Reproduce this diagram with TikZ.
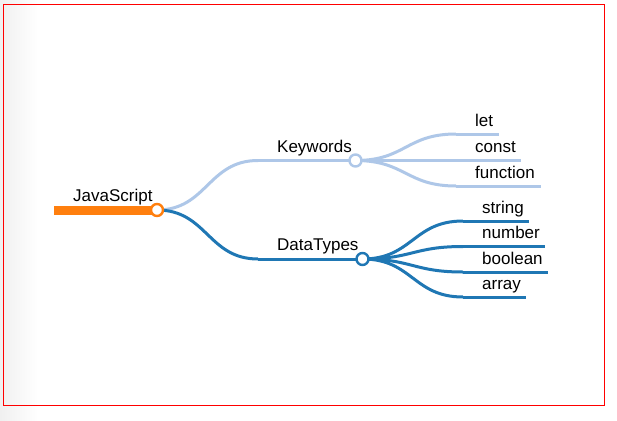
\documentclass[tikz,border=0pt]{standalone}
\usepackage{fontspec}
\setmainfont{Liberation Sans}
\begin{document}
\begin{tikzpicture}[x=1pt,y=-1pt,
  lbl/.style={anchor=base west,inner sep=0pt,font=\fontsize{17}{19}\selectfont,text=black},
  dot/.style={circle,draw,fill=white,minimum size=12pt,inner sep=0pt,line width=2.4pt},
  lnk/.style={line width=3pt}]
\definecolor{jscol}{HTML}{FF7F0E}
\definecolor{kwcol}{HTML}{AEC7E8}
\definecolor{dtcol}{HTML}{1F77B4}
\useasboundingbox (0,0) rectangle (617,420);
\shade[left color=black!6,right color=white] (0,0) rectangle (38,420);
\fill[white] (38,0) rectangle (617,420);
\draw[red,line width=1pt] (3.5,4.5) rectangle (604.5,405);

% coordinates
\coordinate (jss) at (54,210);
\coordinate (jsc) at (157,210);
\coordinate (kws) at (258,160.5);
\coordinate (kwc) at (355.5,160.5);
\coordinate (dts) at (258,259);
\coordinate (dtc) at (362.5,259);
\coordinate (lets) at (456,134);   \coordinate (lete) at (499,134);
\coordinate (consts) at (456,160.5); \coordinate (conste) at (521,160.5);
\coordinate (funs) at (456,186);   \coordinate (fune) at (541,186);
\coordinate (strs) at (463,221);   \coordinate (stre) at (529,221);
\coordinate (nums) at (463,246.5); \coordinate (nume) at (545,246.5);
\coordinate (bools) at (463,272);  \coordinate (boole) at (548,272);
\coordinate (arrs) at (463,297);   \coordinate (arre) at (526,297);

% links
\draw[lnk,kwcol] (jsc) .. controls +(50,0) and +(-50,0) .. (kws);
\draw[lnk,dtcol] (jsc) .. controls +(50,0) and +(-50,0) .. (dts);
\foreach \s in {lets,consts,funs}
  \draw[lnk,kwcol] (kwc) .. controls +(50,0) and +(-50,0) .. (\s);
\foreach \s in {strs,nums,bools,arrs}
  \draw[lnk,dtcol] (dtc) .. controls +(50,0) and +(-50,0) .. (\s);

% node lines
\draw[jscol,line width=9pt] (jss) -- (jsc);
\draw[lnk,kwcol] (kws) -- (kwc);
\draw[lnk,dtcol] (dts) -- (dtc);
\draw[lnk,kwcol] (lets) -- (lete);
\draw[lnk,kwcol] (consts) -- (conste);
\draw[lnk,kwcol] (funs) -- (fune);
\draw[lnk,dtcol] (strs) -- (stre);
\draw[lnk,dtcol] (nums) -- (nume);
\draw[lnk,dtcol] (bools) -- (boole);
\draw[lnk,dtcol] (arrs) -- (arre);

% circles
\node[dot,draw=jscol] (js) at (jsc) {};
\node[dot,draw=kwcol] (kw) at (kwc) {};
\node[dot,draw=dtcol] (dt) at (dtc) {};

% labels
\node[lbl] (tjs) at ([xshift=19pt,yshift=8.5pt]jss) {JavaScript};
\node[lbl] (tkw) at ([xshift=19pt,yshift=8.5pt]kws) {Keywords};
\node[lbl] (tdt) at ([xshift=19pt,yshift=8.5pt]dts) {DataTypes};
\node[lbl] (tlet) at ([xshift=19pt,yshift=8pt]lets) {let};
\node[lbl] (tconst) at ([xshift=19pt,yshift=8pt]consts) {const};
\node[lbl] (tfun) at ([xshift=19pt,yshift=8pt]funs) {function};
\node[lbl] (tstr) at ([xshift=19pt,yshift=8pt]strs) {string};
\node[lbl] (tnum) at ([xshift=19pt,yshift=8pt]nums) {number};
\node[lbl] (tbool) at ([xshift=19pt,yshift=8pt]bools) {boolean};
\node[lbl] (tarr) at ([xshift=19pt,yshift=8pt]arrs) {array};
\end{tikzpicture}
\end{document}
